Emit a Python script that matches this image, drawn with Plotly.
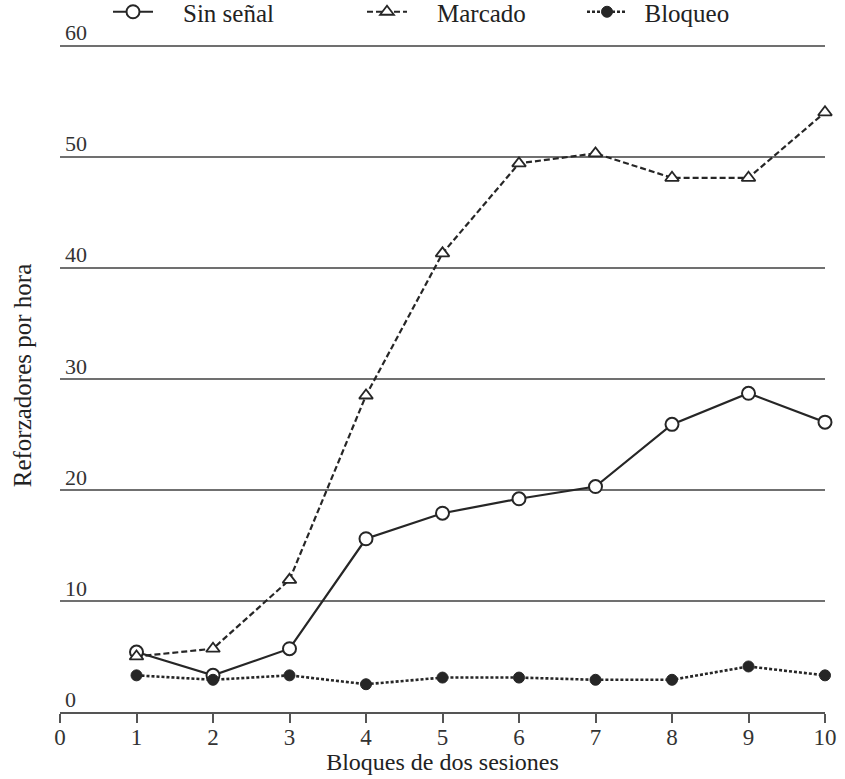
import plotly.graph_objects as go

blocks = [1, 2, 3, 4, 5, 6, 7, 8, 9, 10]
sin_senal = [5.4, 3.3, 5.7, 15.6, 17.9, 19.2, 20.3, 25.9, 28.7, 26.1]
marcado = [5.0, 5.7, 11.9, 28.5, 41.3, 49.4, 50.3, 48.1, 48.1, 54.0]
bloqueo = [3.3, 2.9, 3.3, 2.5, 3.1, 3.1, 2.9, 2.9, 4.1, 3.3]
x_ticks = [0, 1, 2, 3, 4, 5, 6, 7, 8, 9, 10]
y_ticks = [0, 10, 20, 30, 40, 50, 60]

FONT = "Liberation Serif"
INK = "#262626"
NB = "\u00a0"

fig = go.Figure()
fig.add_trace(go.Scatter(
    x=blocks, y=sin_senal, name=NB * 4 + "Sin señal", mode="lines+markers",
    line=dict(color=INK, width=2.2, dash="solid"),
    marker=dict(symbol="circle", size=13, color="white", line=dict(color=INK, width=2)),
    cliponaxis=False, legend="legend"))
fig.add_trace(go.Scatter(
    x=blocks, y=marcado, name=NB * 4 + "Marcado", mode="lines+markers",
    line=dict(color=INK, width=2.2, dash="6px,3px"),
    marker=dict(symbol="triangle-up", size=12, color="white", line=dict(color=INK, width=1.8)),
    cliponaxis=False, legend="legend2"))
fig.add_trace(go.Scatter(
    x=blocks, y=bloqueo, name=NB * 2 + "Bloqueo", mode="lines+markers",
    line=dict(color=INK, width=2.6, dash="3px,2px"),
    marker=dict(symbol="circle", size=11, color=INK, line=dict(color=INK, width=1)),
    cliponaxis=False, legend="legend3"))

leg_common = dict(orientation="h", yref="container", y=1 - 12 / 779, yanchor="middle",
                  xref="container", xanchor="left", bgcolor="rgba(0,0,0,0)",
                  font=dict(family=FONT, size=25, color="#222"), itemwidth=40)

fig.update_layout(
    width=845, height=779,
    margin=dict(l=60, r=20, t=39, b=67, autoexpand=False),
    paper_bgcolor="white", plot_bgcolor="white",
    font=dict(family=FONT, size=22, color="#333"),
    legend=dict(**leg_common, x=108 / 845),
    legend2=dict(**leg_common, x=362 / 845),
    legend3=dict(**leg_common, x=582 / 845),
    xaxis=dict(
        range=[0, 10], tickvals=x_ticks, ticktext=[str(v) for v in x_ticks],
        showgrid=False, zeroline=False, showline=True, linecolor="#555", linewidth=1.8,
        ticks="outside", ticklen=9, tickwidth=1.8, tickcolor="#555", automargin=False,
        ticklabelstandoff=-6,
        tickfont=dict(family=FONT, size=23, color="#333"),
        title=dict(text="Bloques de dos sesiones", font=dict(family=FONT, size=24, color="#222"), standoff=0),
    ),
    yaxis=dict(
        range=[0, 60.6], tickvals=y_ticks,
        ticktext=[str(v) + (NB * 2 if v < 10 else "") for v in y_ticks],
        showgrid=True, gridcolor="#707070", gridwidth=1.5, zeroline=False, showline=False,
        ticks="", ticklabelposition="outside", ticklabelstandoff=-28, ticklabelshift=-13,
        automargin=False,
        tickfont=dict(family=FONT, size=22, color="#333"),
        title=dict(text="Reforzadores por hora", font=dict(family=FONT, size=25, color="#222"), standoff=26),
    ),
    showlegend=True,
)

fig.write_html("out.html", config={"displayModeBar": False},
               post_script="document.body.style.margin='0px';")
